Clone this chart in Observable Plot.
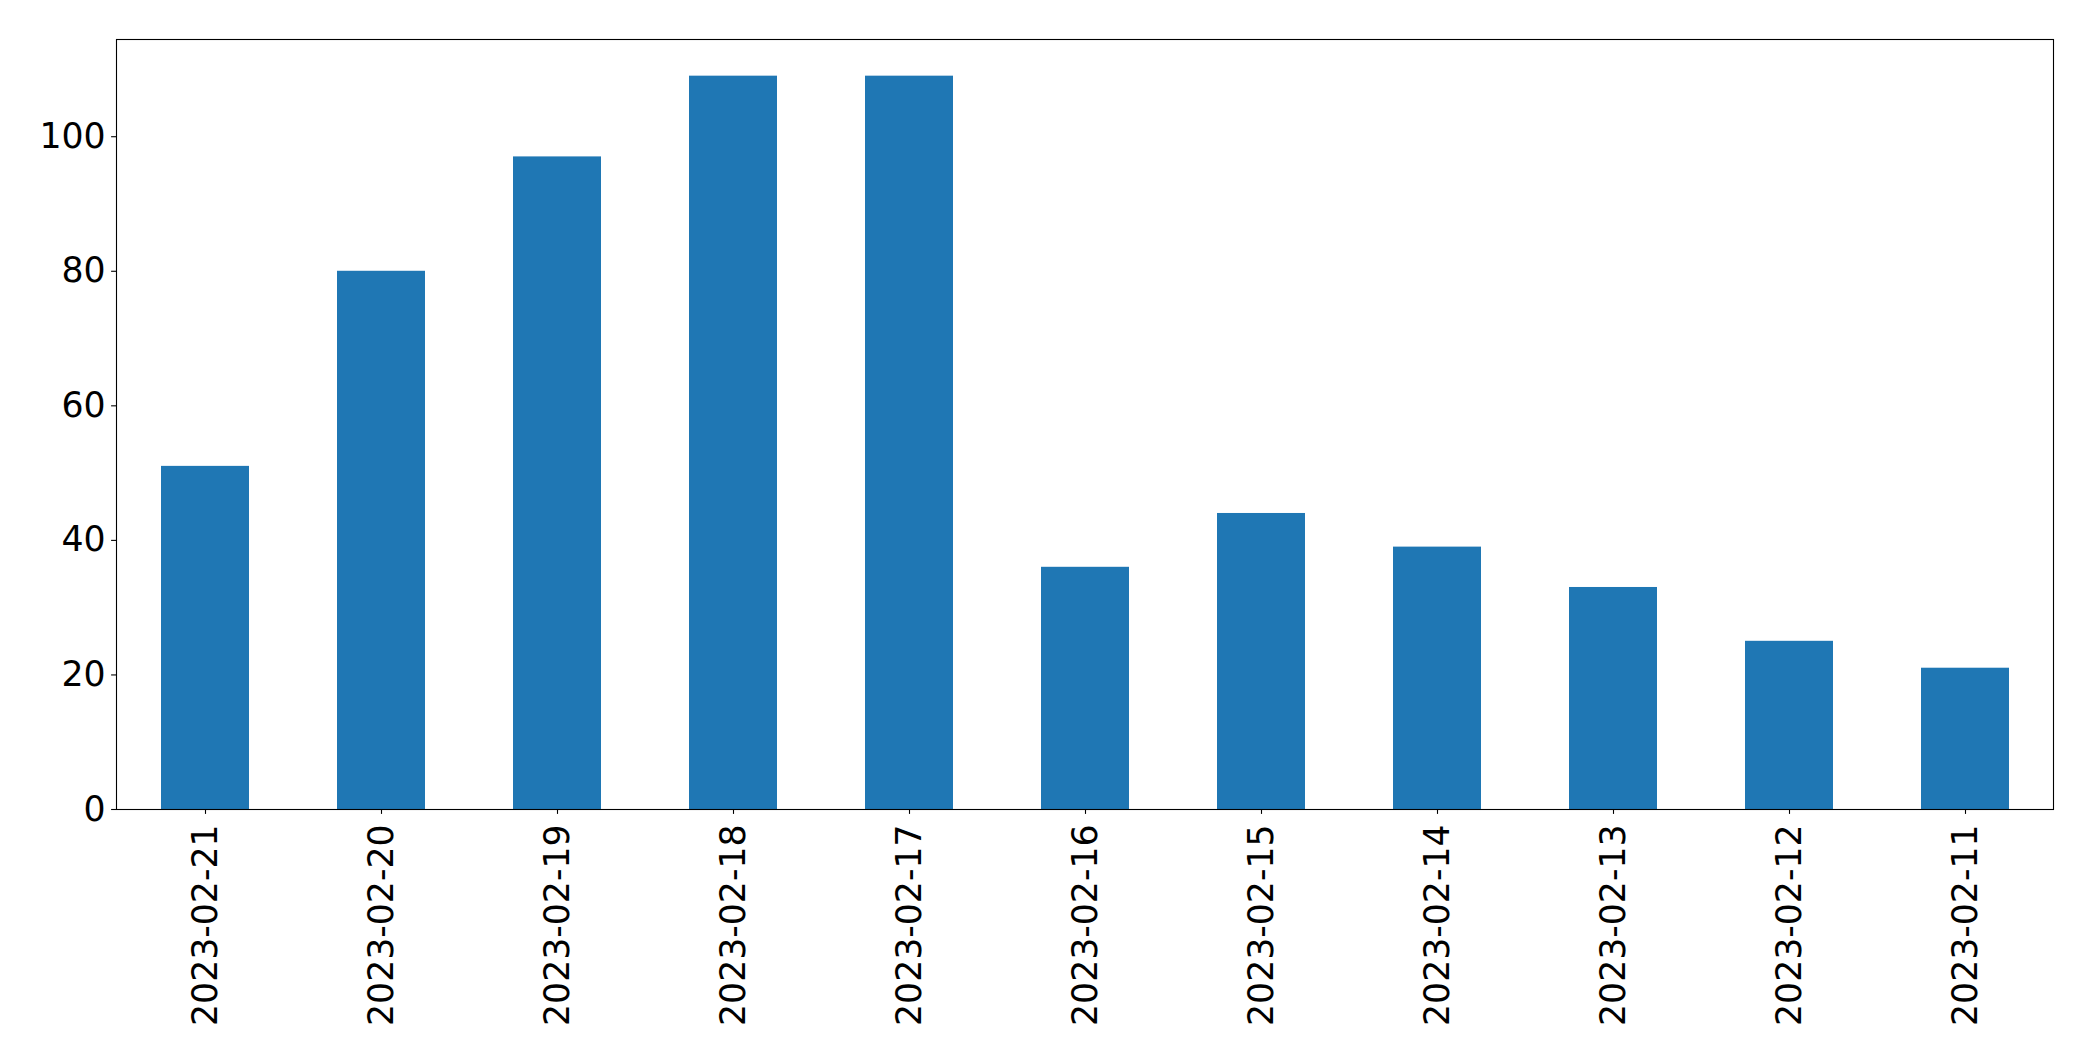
<!DOCTYPE html>
<html>
<head>
<meta charset="utf-8">
<script src="https://cdn.jsdelivr.net/npm/d3@7"></script>
<script src="https://cdn.jsdelivr.net/npm/@observablehq/plot@0.6"></script>
<style>
  html, body { margin: 0; padding: 0; background: #fff; }
  #chart svg { display: block; }
</style>
</head>
<body>
<div id="chart"></div>
<script>
const dates = ["2023-02-21","2023-02-20","2023-02-19","2023-02-18","2023-02-17","2023-02-16","2023-02-15","2023-02-14","2023-02-13","2023-02-12","2023-02-11"];
const counts = [51, 80, 97, 109, 109, 36, 44, 39, 33, 25, 21];
const yTicks = [0, 20, 40, 60, 80, 100];

const data = dates.map((d, i) => ({date: d, count: counts[i]}));

const chart = Plot.plot({
  width: 2093,
  height: 1061,
  marginTop: 39,
  marginBottom: 252,
  marginLeft: 116,
  marginRight: 40,
  style: {fontFamily: "DejaVu Sans", fontSize: "34.7px", color: "#000", background: "#fff"},
  x: {domain: dates, paddingInner: 0.5, paddingOuter: 0.25, label: null},
  y: {domain: [0, 109 * 1.05], label: null},
  marks: [
    Plot.barY(data, {x: "date", y: "count", fill: "#1f77b4"}),
    Plot.axisY({ticks: yTicks, tickSize: 4.9, tickPadding: 6, label: null, stroke: "#000", strokeWidth: 1.1, fontSize: 34.7}),
    Plot.axisX({tickSize: 4.9, tickPadding: 10, tickRotate: -90, label: null, stroke: "#000", strokeWidth: 1.1, fontSize: 34.7}),
    Plot.frame({stroke: "#000", strokeWidth: 1.1})
  ]
});
document.getElementById("chart").appendChild(chart);
</script>
</body>
</html>
